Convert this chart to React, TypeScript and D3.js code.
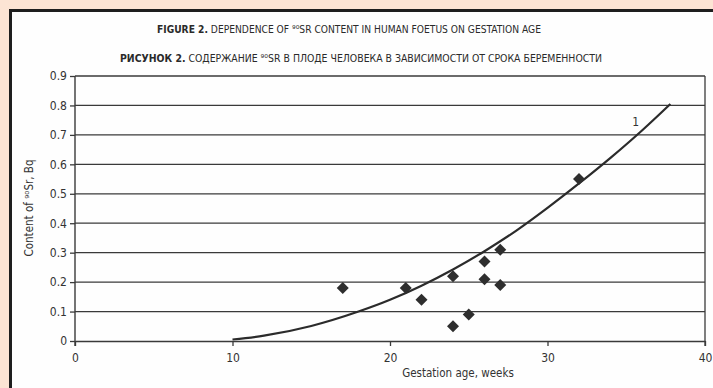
import React, { useRef, useEffect } from "react";
import * as d3 from "d3";

// measured points: gestation age (weeks) vs 90Sr content (Bq)
const ageWeeks = [17, 21, 22, 24, 24, 25, 26, 26, 27, 27, 32];
const srContent = [0.18, 0.18, 0.14, 0.22, 0.05, 0.09, 0.27, 0.21, 0.31, 0.19, 0.55];

// trend curve "1"
const curveAge = [10, 12, 15, 18, 20, 22, 24, 26, 28, 30, 32, 34, 36, 37.8];
const curveSr = [0.005, 0.018, 0.051, 0.1, 0.14, 0.188, 0.243, 0.305, 0.374, 0.452, 0.535, 0.622, 0.715, 0.805];

const xTicks = [0, 10, 20, 30, 40];
const yTicks = [0, 0.1, 0.2, 0.3, 0.4, 0.5, 0.6, 0.7, 0.8, 0.9];

const W = 713, H = 388;
const narrow = "'Liberation Sans Narrow', 'DejaVu Sans Condensed', 'Liberation Sans', sans-serif";

export default function App() {
  const svgRef = useRef<SVGSVGElement>(null);

  useEffect(() => {
    const svg = d3.select(svgRef.current);
    svg.selectAll("*").remove();

    svg.append("rect").attr("width", W).attr("height", H).attr("fill", "#fce4d4");
    svg.append("rect")
      .attr("x", 10.5).attr("y", 10.5)
      .attr("width", W + 20).attr("height", H + 20)
      .attr("fill", "#fefefe")
      .attr("stroke", "#1e1e1e").attr("stroke-width", 3);

    const x = d3.scaleLinear().domain([0, 40]).range([75, 705]);
    const y = d3.scaleLinear().domain([0, 0.9]).range([341, 76]);

    // titles (superscript digits kept inline)
    const t1 = svg.append("text")
      .attr("x", 349).attr("y", 33)
      .attr("text-anchor", "middle")
      .attr("font-family", narrow).attr("font-size", 11)
      .attr("fill", "#2a2a2a")
      .attr("textLength", 384).attr("lengthAdjust", "spacingAndGlyphs");
    t1.append("tspan").attr("font-weight", "bold").text("FIGURE 2.");
    t1.append("tspan").text(" DEPENDENCE OF ⁹⁰SR CONTENT IN HUMAN FOETUS ON GESTATION AGE");

    const t2 = svg.append("text")
      .attr("x", 361).attr("y", 62)
      .attr("text-anchor", "middle")
      .attr("font-family", narrow).attr("font-size", 11)
      .attr("fill", "#2a2a2a")
      .attr("textLength", 482).attr("lengthAdjust", "spacingAndGlyphs");
    t2.append("tspan").attr("font-weight", "bold").text("РИСУНОК 2.");
    t2.append("tspan").text(" СОДЕРЖАНИЕ ⁹⁰SR В ПЛОДЕ ЧЕЛОВЕКА В ЗАВИСИМОСТИ ОТ СРОКА БЕРЕМЕННОСТИ");

    // gridlines
    svg.append("g").selectAll("line")
      .data(yTicks.filter(d => d > 0))
      .join("line")
      .attr("x1", x(0)).attr("x2", x(40))
      .attr("y1", d => y(d)).attr("y2", d => y(d))
      .attr("stroke", "#3a3a3a").attr("stroke-width", 1.3);

    // right border
    svg.append("line")
      .attr("x1", x(40)).attr("x2", x(40))
      .attr("y1", y(0.9)).attr("y2", y(0) + 5)
      .attr("stroke", "#3a3a3a").attr("stroke-width", 1.3);

    // axes
    const xAxis = svg.append("g")
      .attr("transform", `translate(0,${y(0)})`)
      .call(d3.axisBottom(x).tickValues(xTicks).tickSize(5).tickSizeOuter(0).tickFormat(d3.format("d")));
    const yAxis = svg.append("g")
      .attr("transform", `translate(${x(0)},0)`)
      .call(d3.axisLeft(y).tickValues(yTicks).tickSize(5).tickSizeOuter(0)
        .tickFormat(d => (d === 0 ? "0" : d3.format(".1f")(d as number))));
    [xAxis, yAxis].forEach(g => {
      g.select(".domain").attr("stroke", "#3a3a3a").attr("stroke-width", 1.4);
      g.selectAll(".tick line").attr("stroke", "#3a3a3a").attr("stroke-width", 1.3);
      g.selectAll(".tick text")
        .attr("font-family", narrow).attr("font-size", 12).attr("fill", "#333");
    });
    xAxis.selectAll(".tick text").attr("dy", "1.05em");
    yAxis.selectAll(".tick text").attr("x", -8);
    yAxis.select(".domain").attr("d", `M0,${y(0.9)}V${y(0) + 5}`);

    // axis titles
    svg.append("text")
      .attr("x", 458).attr("y", 377)
      .attr("text-anchor", "middle")
      .attr("font-family", narrow).attr("font-size", 11.5).attr("fill", "#333")
      .text("Gestation age, weeks");
    svg.append("text")
      .attr("transform", "translate(33,208) rotate(-90)")
      .attr("text-anchor", "middle")
      .attr("font-family", narrow).attr("font-size", 11.5).attr("fill", "#333")
      .text("Content of ⁹⁰Sr, Bq");

    // trend curve
    const line = d3.line<number>()
      .x((_, i) => x(curveAge[i]))
      .y(d => y(d))
      .curve(d3.curveMonotoneX);
    svg.append("path")
      .attr("d", line(curveSr))
      .attr("fill", "none")
      .attr("stroke", "#2b2b2b").attr("stroke-width", 2.2);
    svg.append("text")
      .attr("x", x(35.6)).attr("y", y(0.73))
      .attr("text-anchor", "middle")
      .attr("font-family", narrow).attr("font-size", 12).attr("fill", "#333")
      .text("1");

    // diamonds
    const diamond = d3.symbol().type(d3.symbolSquare).size(72);
    svg.append("g").selectAll("path")
      .data(srContent)
      .join("path")
      .attr("d", diamond)
      .attr("transform", (d, i) => `translate(${x(ageWeeks[i])},${y(d)}) rotate(45)`)
      .attr("fill", "#2e2e2e");
  }, []);

  return (
    <svg ref={svgRef} width={W} height={H}
      style={{ position: "absolute", left: 0, top: 0, display: "block" }} />
  );
}
